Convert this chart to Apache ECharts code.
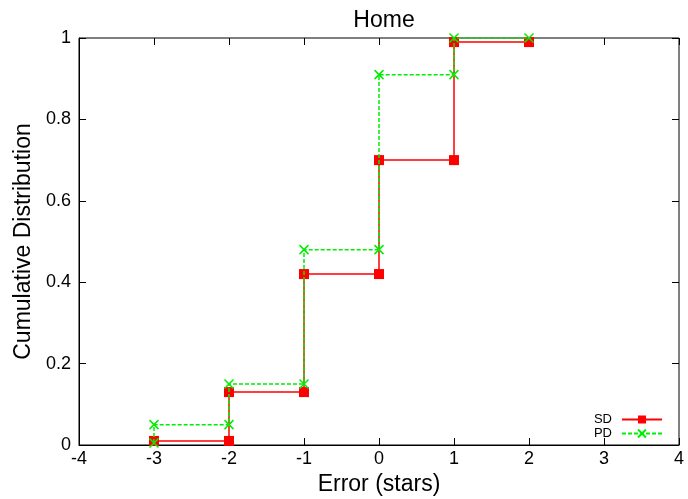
<!DOCTYPE html>
<html>
<head>
<meta charset="utf-8">
<title>Home</title>
<script src="https://cdn.jsdelivr.net/npm/echarts@6/dist/echarts.min.js"></script>
<style>
  html, body { margin: 0; padding: 0; background: #ffffff; }
  #chart { width: 688px; height: 499px; }
</style>
</head>
<body>
<div id="chart"></div>
<script>
// Step-wise cumulative distributions of rating error (each step drawn as two points)
const seriesNames = ['SD', 'PD'];
const sdX = [-3, -2, -2, -1, -1, 0, 0, 1, 1, 2];
const sdY = [0.01, 0.01, 0.13, 0.13, 0.42, 0.42, 0.70, 0.70, 0.99, 0.99];
const pdX = [-3, -3, -2, -2, -1, -1, 0, 0, 1, 1, 2];
const pdY = [0.005, 0.05, 0.05, 0.15, 0.15, 0.48, 0.48, 0.91, 0.91, 1.0, 1.0];

const FONT = '"Liberation Sans", Arial, sans-serif';
const CROSS = 'path://M0,0L10,10M10,0L0,10';

function pairs(xs, ys) {
  return xs.map((x, i) => [x, ys[i]]);
}

const chart = echarts.init(document.getElementById('chart'), null, { renderer: 'canvas' });

const tickStyle = { show: true, inside: true, length: 7, lineStyle: { color: '#000', width: 1 } };

chart.setOption({
  animation: false,
  backgroundColor: '#ffffff',
  textStyle: { fontFamily: FONT },
  title: {
    text: 'Home',
    left: 379,
    top: 4,
    textAlign: 'center',
    textStyle: { fontFamily: FONT, fontSize: 23, fontWeight: 'normal', color: '#000' }
  },
  grid: {
    left: 79, right: 9, top: 38, bottom: 54,
    outerBoundsMode: 'none',
    containLabel: false,
    show: true, borderColor: '#000', borderWidth: 1, backgroundColor: 'transparent'
  },
  legend: {
    right: 20,
    bottom: 54,
    orient: 'vertical',
    align: 'right',
    itemWidth: 40,
    itemHeight: 10,
    itemGap: 1,
    data: seriesNames,
    textStyle: { fontFamily: FONT, fontSize: 13, lineHeight: 13, color: '#000', padding: [0, 5, 0, 0] }
  },
  xAxis: [
    {
      type: 'value', min: -4, max: 4, interval: 1,
      name: 'Error (stars)', nameLocation: 'middle', nameGap: 22,
      nameTextStyle: { fontFamily: FONT, fontSize: 23, color: '#000' },
      axisLine: { show: true, onZero: false, lineStyle: { color: '#000', width: 1 } },
      axisTick: tickStyle,
      axisLabel: { fontFamily: FONT, fontSize: 18, color: '#000', margin: 5 },
      splitLine: { show: false }
    },
    {
      type: 'value', min: -4, max: 4, interval: 1, position: 'top',
      axisLine: { show: false, onZero: false },
      axisTick: tickStyle,
      axisLabel: { show: false },
      splitLine: { show: false }
    }
  ],
  yAxis: [
    {
      type: 'value', min: 0, max: 1, interval: 0.2,
      name: 'Cumulative Distribution', nameLocation: 'middle', nameGap: 43,
      nameTextStyle: { fontFamily: FONT, fontSize: 23, color: '#000' },
      axisLine: { show: true, onZero: false, lineStyle: { color: '#000', width: 1 } },
      axisTick: tickStyle,
      axisLabel: { fontFamily: FONT, fontSize: 18, color: '#000', margin: 8 },
      splitLine: { show: false }
    },
    {
      type: 'value', min: 0, max: 1, interval: 0.2, position: 'right',
      axisLine: { show: false, onZero: false },
      axisTick: tickStyle,
      axisLabel: { show: false },
      splitLine: { show: false }
    }
  ],
  series: [
    {
      name: 'SD',
      type: 'line',
      data: pairs(sdX, sdY),
      symbol: 'rect',
      symbolSize: 10,
      showAllSymbol: true,
      itemStyle: { color: '#ff0000' },
      lineStyle: { color: '#ff0000', width: 1.5 },
      emphasis: { disabled: true },
      z: 2
    },
    {
      name: 'PD',
      type: 'line',
      data: pairs(pdX, pdY),
      symbol: CROSS,
      symbolSize: 9,
      showAllSymbol: true,
      itemStyle: { color: 'transparent', borderColor: '#00ee00', borderWidth: 1.5 },
      lineStyle: { color: '#00ee00', width: 1.5, type: [4, 2] },
      emphasis: { disabled: true },
      z: 3
    }
  ]
});
</script>
</body>
</html>
